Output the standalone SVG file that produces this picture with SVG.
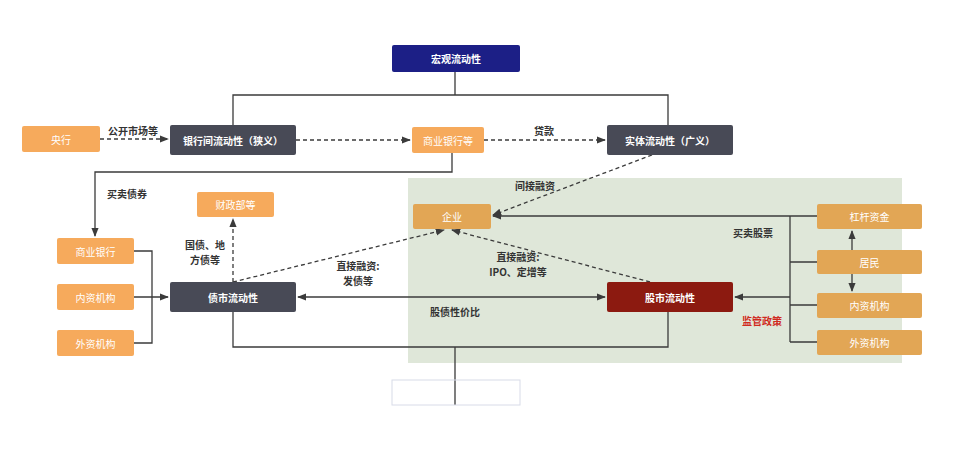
<svg xmlns="http://www.w3.org/2000/svg" width="960" height="450" viewBox="0 0 960 450">
<style>
text{font-family:"Noto Sans CJK SC","Liberation Sans",sans-serif;font-size:10px;text-anchor:middle;dominant-baseline:central}
.o{fill:#f6aa5c}.e{fill:#e2a655}.d{fill:#484a56}
.w{fill:#fff}.k{fill:#333;font-weight:bold}
.l{fill:none;stroke:#3b3b3b;stroke-width:1.3}
.ds{stroke-dasharray:4 3}
</style>
<defs><marker id="a" viewBox="0 0 10 10" refX="9" refY="5" markerWidth="7" markerHeight="7" orient="auto-start-reverse"><path d="M0,1L10,5L0,9z" fill="#3b3b3b"/></marker></defs>
<rect width="960" height="450" fill="#fff"/>
<rect x="408" y="178" width="494" height="185" fill="#dfe7d9"/>
<g id="connectors">
<path class="l" d="M455,72V95M233,125V95H668V125"/>
<path class="l ds" d="M100,139H168" marker-end="url(#a)"/>
<path class="l ds" d="M296,140H410" marker-end="url(#a)"/>
<path class="l ds" d="M484,140H605" marker-end="url(#a)"/>
<path class="l" d="M452,153V172H95V236" marker-end="url(#a)"/>
<path class="l" d="M134,251H152V343H134M134,297H168" marker-end="url(#a)"/>
<path class="l ds" d="M233,282V219" marker-end="url(#a)"/>
<path class="l ds" d="M233,282L444,230" marker-end="url(#a)"/>
<path class="l ds" d="M650,282L452,230" marker-end="url(#a)"/>
<path class="l ds" d="M652,155L493,215" marker-end="url(#a)"/>
<path class="l" d="M298,297H605" marker-start="url(#a)" marker-end="url(#a)"/>
<path class="l" d="M233,312V347H668V312M455,347V405"/>
<path class="l" d="M817,216H493" marker-end="url(#a)"/>
<path class="l" d="M790,216V342M817,262H790M817,305H790M817,342H790"/>
<path class="l" d="M790,297H735" marker-end="url(#a)"/>
<path class="l" d="M852,250V231" marker-end="url(#a)"/>
<path class="l" d="M852,274V291" marker-end="url(#a)"/>
</g>
<rect x="392" y="380" width="128" height="25" fill="none" stroke="#d8dbe8"/>
<g id="macro"><rect x="392" y="45" width="128" height="27" rx="2" fill="#1c1f86"/><text x="456" y="58.5" class="w" font-size="12" font-weight="bold">宏观流动性</text></g>
<g id="cb"><rect x="22" y="126" width="78" height="26" rx="2" class="o"/><text x="61" y="139" class="w">央行</text></g>
<g id="interbank"><rect x="170" y="125" width="126" height="30" rx="2" class="d"/><text x="233" y="140" class="w" font-weight="bold">银行间流动性（狭义）</text></g>
<g id="cbanks"><rect x="412" y="127" width="72" height="26" rx="2" class="o"/><text x="448" y="140" class="w">商业银行等</text></g>
<g id="real"><rect x="607" y="125" width="126" height="30" rx="2" class="d"/><text x="670" y="140" class="w" font-weight="bold">实体流动性（广义）</text></g>
<g id="mof"><rect x="197" y="192" width="77" height="25" rx="2" class="o"/><text x="235.5" y="204.5" class="w">财政部等</text></g>
<g id="firm"><rect x="413" y="204" width="78" height="25" rx="2" class="e"/><text x="452" y="216.5" class="w">企业</text></g>
<g id="bank2"><rect x="57" y="238" width="77" height="26" rx="2" class="o"/><text x="95.5" y="251" class="w">商业银行</text></g>
<g id="dom1"><rect x="57" y="284" width="77" height="26" rx="2" class="o"/><text x="95.5" y="297" class="w">内资机构</text></g>
<g id="for1"><rect x="57" y="330" width="77" height="26" rx="2" class="o"/><text x="95.5" y="343" class="w">外资机构</text></g>
<g id="bond"><rect x="170" y="282" width="126" height="30" rx="2" class="d"/><text x="233" y="297" class="w" font-weight="bold" font-size="11">债市流动性</text></g>
<g id="stock"><rect x="607" y="282" width="126" height="30" rx="2" fill="#8c1a10"/><text x="670" y="297" class="w" font-weight="bold" font-size="11">股市流动性</text></g>
<g id="lev"><rect x="817" y="204" width="105" height="25" rx="2" class="e"/><text x="869.5" y="216.5" class="w">杠杆资金</text></g>
<g id="res"><rect x="817" y="250" width="105" height="24" rx="2" class="e"/><text x="869.5" y="262" class="w">居民</text></g>
<g id="dom2"><rect x="817" y="293" width="105" height="25" rx="2" class="e"/><text x="869.5" y="305.5" class="w">内资机构</text></g>
<g id="for2"><rect x="817" y="330" width="105" height="25" rx="2" class="e"/><text x="869.5" y="342.5" class="w">外资机构</text></g>
<g id="labels">
<text x="133" y="130" class="k">公开市场等</text>
<text x="544" y="130" class="k">贷款</text>
<text x="127" y="193" class="k">买卖债券</text>
<text x="205" y="244" class="k">国债、地</text><text x="205" y="259" class="k">方债等</text>
<text x="358" y="265" class="k">直接融资:</text><text x="358" y="280" class="k">发债等</text>
<text x="535" y="185" class="k">间接融资</text>
<text x="518" y="256" class="k">直接融资:</text><text x="518" y="271" class="k">IPO、定增等</text>
<text x="455" y="311" class="k">股债性价比</text>
<text x="753" y="232" class="k">买卖股票</text>
<text x="762" y="320" font-size="12" font-weight="bold" fill="#d02a1e">监管政策</text>
</g>
</svg>
